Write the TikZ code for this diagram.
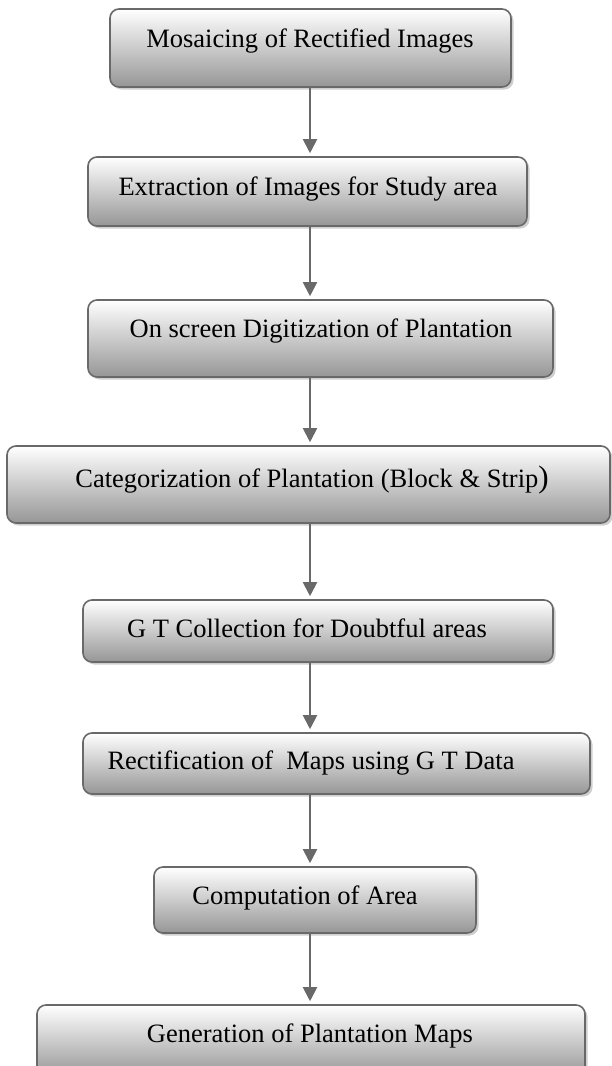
\documentclass[tikz,border=0pt]{standalone}
\usepackage{fontspec}
\setmainfont{Liberation Serif}
\usetikzlibrary{arrows.meta,shadows}
\definecolor{edge}{RGB}{105,105,105}
\definecolor{shadebot}{RGB}{150,150,150}
\definecolor{shademid}{RGB}{225,225,225}
\definecolor{shadowc}{RGB}{195,195,195}
\tikzset{
  box/.style={draw=edge, line width=1.6pt, rounded corners=9pt, inner sep=0pt,
    top color=white, middle color=shademid, bottom color=shadebot,
    drop shadow={shadow xshift=2.5pt, shadow yshift=-2.5pt, fill=shadowc, opacity=0.8}},
  lbl/.style={anchor=base, inner sep=0pt, font=\fontsize{26.5}{30}\selectfont},
  flow/.style={draw=edge, line width=2pt, shorten >=3pt, -{Triangle[width=14pt,length=14pt]}}
}
\begin{document}
\begin{tikzpicture}[x=1pt,y=-1pt]
\useasboundingbox (0,0) rectangle (612,1066);
% boxes
\node[box, minimum width=401pt, minimum height=78pt] (b1) at (310.5,48) {};
\node[box, minimum width=439pt, minimum height=69pt] (b2) at (307.5,191.5) {};
\node[box, minimum width=465pt, minimum height=77pt] (b3) at (320.5,338.5) {};
\node[box, minimum width=603pt, minimum height=77pt] (b4) at (308.5,484.5) {};
\node[box, minimum width=470pt, minimum height=62pt] (b5) at (318,631) {};
\node[box, minimum width=507pt, minimum height=61pt] (b6) at (336.5,763.5) {};
\node[box, minimum width=322pt, minimum height=66pt] (b7) at (315,900) {};
\node[box, minimum width=548pt, minimum height=72pt] (b8) at (311,1041) {};
% labels
\node[lbl] (t1) at (310,47) {Mosaicing of Rectified Images};
\node[lbl] (t2) at (308,195) {Extraction of Images for Study area};
\node[lbl] (t3) at (321,337) {On screen Digitization of Plantation};
\node[lbl] (t4) at (312,487) {Categorization of Plantation (Block \& Strip{\fontsize{31}{31}\selectfont )}};
\node[lbl] (t5) at (307,637) {G T Collection for Doubtful areas};
\node[lbl] (t6) at (311,769) {Rectification of~ Maps using G T Data};
\node[lbl] (t7) at (305,904) {Computation of Area};
\node[lbl] (t8) at (310,1042) {Generation of Plantation Maps};
% connector axis
\coordinate (ax) at (310,0);
\draw[flow] (b1.south -| ax) -- (b2.north -| ax);
\draw[flow] (b2.south -| ax) -- (b3.north -| ax);
\draw[flow] (b3.south -| ax) -- (b4.north -| ax);
\draw[flow] (b4.south -| ax) -- (b5.north -| ax);
\draw[flow] (b5.south -| ax) -- (b6.north -| ax);
\draw[flow] (b6.south -| ax) -- (b7.north -| ax);
\draw[flow] (b7.south -| ax) -- (b8.north -| ax);
\end{tikzpicture}
\end{document}
